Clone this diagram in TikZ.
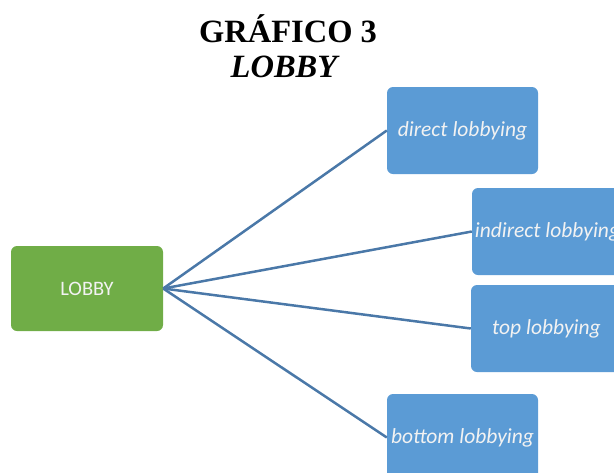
\documentclass[tikz,border=0pt]{standalone}
\usepackage{fontspec}
\setmainfont{Liberation Serif}
\newfontfamily\boxfont{Carlito}
\usepackage{xcolor}
\usepackage{tikz}
\usetikzlibrary{positioning}
\usetikzlibrary{shapes,calc,arrows.meta}

\definecolor{boxgreen}{HTML}{70AD47}
\definecolor{boxblue}{HTML}{5B9BD5}
\definecolor{lineblue}{HTML}{4A78A8}
\definecolor{boxtext}{HTML}{F2F2F2}

\begin{document}
\begin{tikzpicture}[x=1pt,y=-1pt,-,
  branch/.style={draw=lineblue,line width=2.5pt},
  main node/.style={rectangle,rounded corners=6pt,fill=boxgreen,text=boxtext,
    minimum width=152pt,minimum height=85pt,inner sep=0pt,
    font=\boxfont\fontsize{20.5}{24}\selectfont},
  leaf node/.style={rectangle,rounded corners=6pt,fill=boxblue,text=boxtext,
    minimum width=151pt,minimum height=87pt,inner sep=0pt,
    font=\boxfont\itshape\fontsize{21.5}{24}\selectfont}]
  \useasboundingbox (0,0) rectangle (614,472);
  \clip (0,0) rectangle (614,472);
  % title
  \node[font=\bfseries\fontsize{32.5}{36}\selectfont,anchor=base] (title) at (288,42) {GRÁFICO 3};
  \node[font=\bfseries\itshape\fontsize{32.5}{36}\selectfont,anchor=base] (subtitle) at (284,77) {LOBBY};
  % boxes
  \node[main node] (lobby) at (87,288.5) {LOBBY};
  \node[leaf node] (direct) at (462.5,130.5) {direct lobbying};
  \node[leaf node] (indirect) at (547.5,231.5) {indirect lobbying};
  \node[leaf node] (top) at (546.5,328.5) {top lobbying};
  \node[leaf node] (bottom) at (462.5,437.5) {bottom lobbying};
  % branches
  \draw[branch] (lobby.east) -- (direct.west);
  \draw[branch] (lobby.east) -- (indirect.west);
  \draw[branch] (lobby.east) -- (top.west);
  \draw[branch] (lobby.east) -- (bottom.west);
\end{tikzpicture}
\end{document}
